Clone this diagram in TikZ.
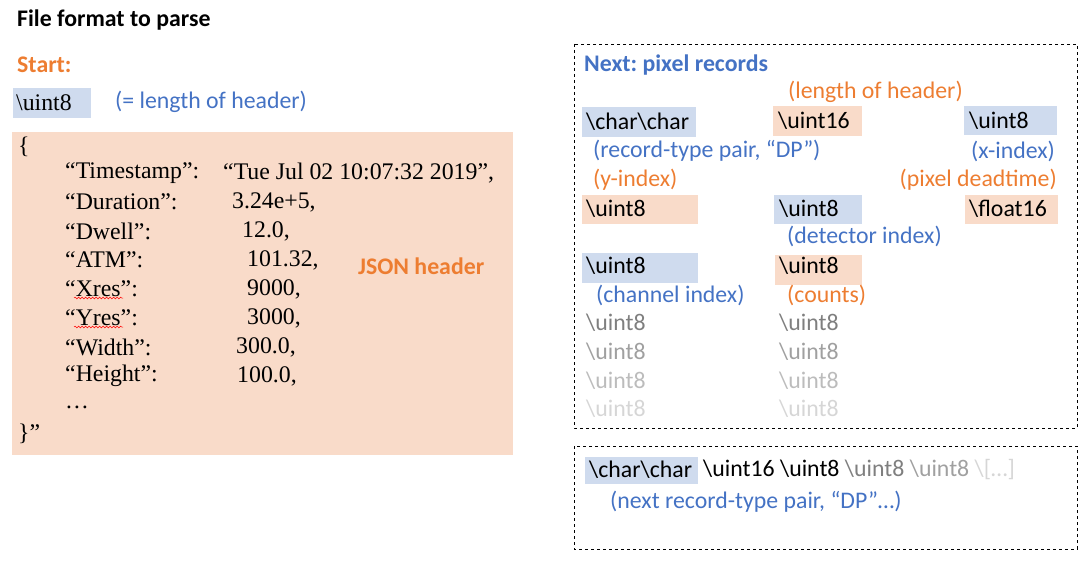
\documentclass[tikz,border=0pt]{standalone}
\usepackage{fontspec}
\setmainfont{Liberation Serif}
\newfontfamily\calib{Carlito}
\usetikzlibrary{decorations.pathmorphing}
\frenchspacing

\definecolor{accblue}{HTML}{4472C4}
\definecolor{accorange}{HTML}{ED7D31}
\definecolor{fillblue}{HTML}{CFDBEE}
\definecolor{fillpeach}{HTML}{F9DBC9}
\definecolor{g1}{HTML}{7F7F7F}
\definecolor{g2}{HTML}{A0A0A0}
\definecolor{g3}{HTML}{BCBCBC}
\definecolor{g4}{HTML}{D6D6D6}

\tikzset{
    cal/.style={font=\calib\fontsize{23.8}{26}\selectfont, anchor=west, inner sep=0pt},
    calb/.style={cal, font=\calib\bfseries\fontsize{23.8}{26}\selectfont},
    ser/.style={font=\fontsize{23.8}{26}\selectfont, anchor=west, inner sep=0pt},
    bluetxt/.style={cal, text=accblue},
    orgtxt/.style={cal, text=accorange},
    recbox/.style={draw, dashed, line width=0.9pt},
    squiggle/.style={red, line width=0.5pt, decorate, decoration={snake, amplitude=0.9pt, segment length=3.5pt}}
}

\begin{document}
\begin{tikzpicture}[x=1pt, y=-1pt]
    \useasboundingbox (0,0) rectangle (1089,569);

    % Title and start of file
    \node[calb] (title) at (17,20) {File format to parse};
    \node[calb, text=accorange] (start) at (17,65) {Start:};
    \fill[fillblue] (13,88) rectangle (91,118);
    \node[ser] (hdrlen) at (16,103) {\textbackslash uint8};
    \node[bluetxt] (hdrlennote) at (115,102) {(= length of header)};

    % JSON header block
    \fill[fillpeach] (12,132) rectangle (513,455);
    \node[ser] (open) at (18,147) {\{};
    \foreach \k/\v/\vx [count=\i] in {Timestamp/{“Tue Jul 02 10:07:32 2019”,}/223,
            Duration/{3.24e+5,}/232, Dwell/{12.0,}/242, ATM/{101.32,}/247,
            Xres/{9000,}/247, Yres/{3000,}/247, Width/{300.0,}/236, Height/{100.0,}/237} {
        \node[ser] (key\i) at (65,144+29*\i) {“\k”:};
        \node[ser] (val\i) at (\vx,144+29*\i) {\v};
    }
    \node[ser] (dots) at (65,407) {…};
    \node[ser] (close) at (18,434) {\}”};
    \node[calb, text=accorange] (json) at (358,266) {JSON header};
    % spell-check marks
    \draw[squiggle] (74,298) -- (123,298);
    \draw[squiggle] (74,327) -- (123,327);

    % Pixel records
    \draw[recbox] (574,44) rectangle (1077,428);
    \node[calb, text=accblue] (next) at (584,65) {Next: pixel records};
    \node[orgtxt] (lenhdr) at (788,92) {(length of header)};

    \fill[fillblue] (582,107) rectangle (696,137);
    \node[cal] (rtype) at (586,122) {\textbackslash char\textbackslash char};
    \fill[fillpeach] (773,106) rectangle (862,136);
    \node[cal] (u16) at (778,121) {\textbackslash uint16};
    \fill[fillblue] (964,106) rectangle (1057,135);
    \node[cal] (xidx) at (969,121) {\textbackslash uint8};

    \node[bluetxt] (rtypenote) at (593,151) {(record-type pair, “DP”)};
    \node[bluetxt, anchor=east] (xidxnote) at (1055,151) {(x-index)};
    \node[orgtxt] (yidxnote) at (593,180) {(y-index)};
    \node[orgtxt, anchor=east] (deadnote) at (1057,180) {(pixel deadtime)};

    \fill[fillpeach] (582,195) rectangle (698,224);
    \node[cal] (yidx) at (586,209) {\textbackslash uint8};
    \fill[fillblue] (774,195) rectangle (862,224);
    \node[cal] (det) at (779,209) {\textbackslash uint8};
    \fill[fillpeach] (965,195) rectangle (1058,224);
    \node[cal] (dead) at (969,209) {\textbackslash float16};
    \node[bluetxt] (detnote) at (787,236) {(detector index)};

    \fill[fillblue] (582,253) rectangle (698,283);
    \node[cal] (chan) at (586,266) {\textbackslash uint8};
    \fill[fillpeach] (775,255) rectangle (862,285);
    \node[cal] (cnt) at (779,266) {\textbackslash uint8};
    \node[bluetxt] (channote) at (596,295) {(channel index)};
    \node[orgtxt] (cntnote) at (787,295) {(counts)};

    % fading repeats
    \foreach \c/\yy [count=\r] in {g1/323, g2/352, g3/381, g4/409} {
        \node[cal, text=\c] (chan\r) at (586,\yy) {\textbackslash uint8};
        \node[cal, text=\c] (cnt\r) at (779,\yy) {\textbackslash uint8};
    }

    % Next record
    \draw[recbox] (574,446) rectangle (1077,549);
    \fill[fillblue] (585,457) rectangle (698,484);
    \node[cal] (nexttype) at (589,470) {\textbackslash char\textbackslash char};
    \node[cal] (nextrest) at (703,470) {\textbackslash uint16 \textbackslash uint8
        \textcolor{g1}{\textbackslash uint8} \textcolor{g2}{\textbackslash uint8}
        \textcolor{g4}{\textbackslash[…]}};
    \node[bluetxt] (nextnote) at (610,502) {(next record-type pair, “DP”…)};
\end{tikzpicture}
\end{document}
